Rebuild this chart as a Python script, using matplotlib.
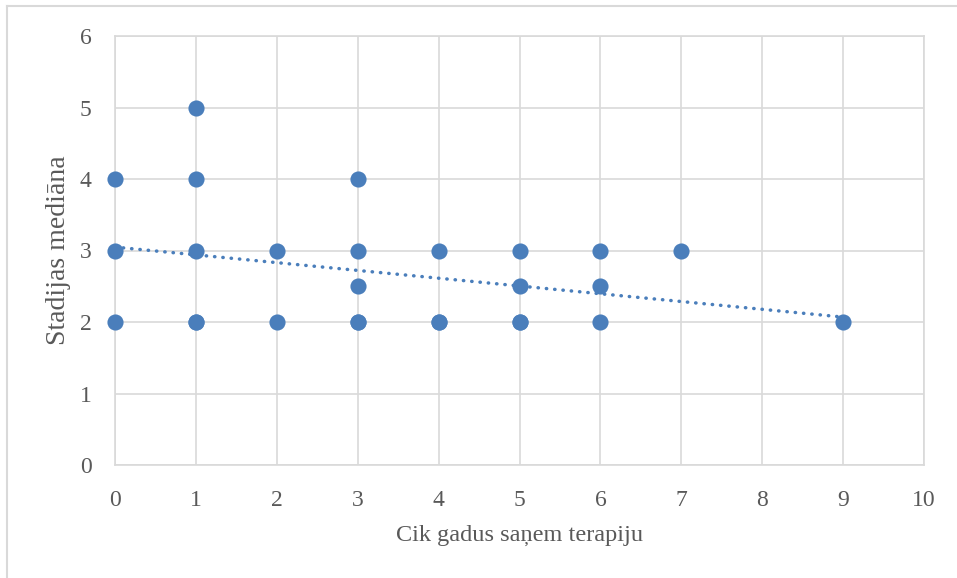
import numpy as np
import matplotlib.pyplot as plt
from matplotlib.lines import Line2D

# years of therapy vs stage median (duplicates hidden under same marker)
years = [0, 0, 0, 1, 1, 1, 1, 2, 2, 3, 3, 3, 3, 4, 4, 5, 5, 5, 6, 6, 6, 7, 9,
         1, 3, 4, 5]
stage = [4, 3, 2, 5, 4, 3, 2, 3, 2, 4, 3, 2.5, 2, 3, 2, 3, 2.5, 2, 3, 2.5, 2, 3, 2,
         2, 2, 2, 2]

blue = "#4a7ebb"
grid = "#d9d9d9"
txt = "#595959"
fnt = "Liberation Serif"

fig = plt.figure(figsize=(9.57, 5.78), dpi=100)
ax = fig.add_axes([115/957, 113/578, 809/957, 429/578])

x = np.array(years, float)
y = np.array(stage, float)
k, b = np.polyfit(x, y, 1)
xt = np.array([x.min(), x.max()])
ax.plot(xt, k*xt + b, color=blue, lw=2.5, ls=(0, (0.1, 2.3)),
        dash_capstyle="round", zorder=2)
ax.scatter(x, y, s=135, color=blue, zorder=3, linewidths=0, clip_on=False)

ax.set_xlim(0, 10)
ax.set_ylim(0, 6)
ax.set_xticks(range(0, 11))
ax.set_yticks(range(0, 7))
ax.grid(True, color=grid, lw=1.2)
ax.set_axisbelow(True)
for s in ax.spines.values():
    s.set_color(grid)
    s.set_linewidth(1.2)
ax.tick_params(length=0, labelsize=17, labelcolor=txt)
ax.tick_params(axis="x", pad=18)
ax.tick_params(axis="y", pad=17)
for lab in ax.get_xticklabels() + ax.get_yticklabels():
    lab.set_family(fnt)
ax.set_xlabel("Cik gadus saņem terapiju", fontsize=17.5, color=txt, family=fnt, labelpad=10)
ax.set_ylabel("Stadijas mediāna", fontsize=20, color=txt, family=fnt, labelpad=6)

# outer chart border (only left/top visible in crop)
fig.add_artist(Line2D([7/957, 7/957], [0, 1 - 6/578], color=grid, lw=1.5))
fig.add_artist(Line2D([7/957, 1], [1 - 6/578, 1 - 6/578], color=grid, lw=1.5))

fig.savefig("out.png", dpi=100)
